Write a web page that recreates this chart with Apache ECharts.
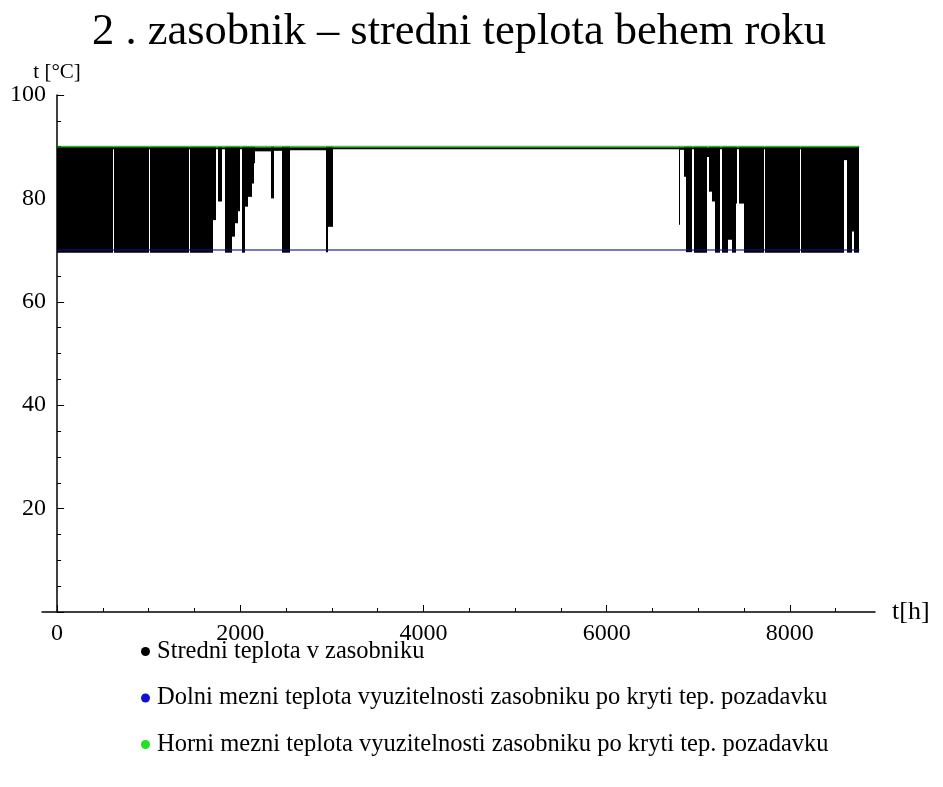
<!DOCTYPE html>
<html>
<head>
<meta charset="utf-8">
<script src="https://cdn.jsdelivr.net/npm/echarts@6/dist/echarts.min.js"></script>
<style>
  html, body { margin: 0; padding: 0; background: #fff; }
  #chart { width: 943px; height: 787px; }
</style>
</head>
<body>
<div id="chart"></div>
<script>
// Hours of the simulated year and the usable temperature limits of tank 2
const hoursInYear = 8760;
const lowerLimit = 70;
const upperLimit = 90;

// Axis ticks
const xMajorTicks = [0, 2000, 4000, 6000, 8000];
const xMinorTicks = [500, 1000, 1500, 2500, 3000, 3500, 4500, 5000, 5500, 6500, 7000, 7500, 8500];

const seriesNames = [
  'Stredni teplota v zasobniku',
  'Dolni mezni teplota vyuzitelnosti zasobniku po kryti tep. pozadavku',
  'Horni mezni teplota vyuzitelnosti zasobniku po kryti tep. pozadavku'
];

// Mean tank temperature, hourly values summarised per time span:
// [from hour, to hour, lowest temperature, highest temperature]
const meanTempSpans = [
  [0, 610, 69.5, 90], [610, 625, 89.5, 89.9], [625, 1000, 69.5, 90],
  [1000, 1014, 89.5, 89.9], [1014, 1436, 69.5, 90], [1436, 1450, 89.5, 89.9],
  [1450, 1705, 69.5, 90],
  [1705, 1735, 75.8, 90], [1735, 1760, 89.5, 89.9], [1760, 1795, 79.4, 90],
  [1795, 1835, 89.5, 89.9], [1835, 1907, 69.5, 90], [1907, 1944, 72.6, 90],
  [1944, 1980, 75.2, 90], [1980, 1998, 77.5, 90], [1998, 2018, 89.5, 89.9],
  [2018, 2053, 69.5, 90], [2053, 2089, 78.4, 90], [2089, 2126, 80.3, 90],
  [2126, 2150, 82.9, 90], [2150, 2162, 86.8, 90], [2162, 2333, 89.1, 89.9],
  [2333, 2370, 80.0, 90], [2370, 2453, 89.2, 89.9], [2453, 2544, 69.5, 90],
  [2544, 2938, 89.3, 89.9], [2938, 2960, 69.6, 90], [2960, 3017, 74.5, 90],
  [3017, 6785, 89.5, 89.9],
  [6785, 6803, 74.9, 90], [6803, 6840, 89.4, 89.9], [6840, 6866, 84.2, 90],
  [6866, 6931, 69.6, 90], [6931, 6949, 89.5, 89.9], [6949, 7095, 69.5, 90],
  [7095, 7113, 88.0, 89.9], [7113, 7150, 81.3, 90], [7150, 7185, 79.4, 90],
  [7185, 7240, 69.5, 90], [7240, 7262, 89.5, 89.9], [7262, 7330, 69.5, 90],
  [7330, 7370, 72.0, 90], [7370, 7411, 69.5, 90], [7411, 7425, 79.0, 90],
  [7425, 7442, 89.5, 89.9], [7442, 7495, 79.0, 90], [7495, 7713, 69.5, 90],
  [7713, 7731, 89.5, 89.9], [7731, 8106, 69.5, 90], [8106, 8122, 89.5, 89.9],
  [8122, 8587, 69.5, 90], [8587, 8620, 87.4, 90], [8620, 8678, 69.5, 90],
  [8678, 8696, 73.6, 90], [8696, 8760, 69.5, 90]
];

const serif = '"Liberation Serif", "Times New Roman", serif';

// One filled column per span, from its lowest to its highest temperature
function renderSpan(params, api) {
  const top = api.coord([api.value(0), api.value(3)]);
  const bottom = api.coord([api.value(1), api.value(2)]);
  const x0 = Math.round(top[0]);
  const x1 = Math.round(bottom[0]);
  return {
    type: 'rect',
    shape: { x: x0, y: top[1], width: Math.max(x1 - x0, 1), height: bottom[1] - top[1] },
    style: { fill: '#000' }
  };
}

const chart = echarts.init(document.getElementById('chart'), null, { renderer: 'canvas' });

chart.setOption({
  animation: false,
  backgroundColor: '#fff',
  title: {
    text: '2 . zasobnik \u2013 stredni teplota behem roku',
    left: 87,
    top: 5,
    textStyle: { fontFamily: serif, fontSize: 44.5, fontWeight: 'normal', color: '#000' }
  },
  legend: {
    orient: 'vertical',
    left: 136,
    top: 634,
    itemGap: 21.5,
    itemWidth: 9,
    itemHeight: 9,
    icon: 'circle',
    selectedMode: false,
    textStyle: { fontFamily: serif, fontSize: 24.5, color: '#000', lineHeight: 23, padding: [0, 0, 0, 2] },
    data: [
      { name: seriesNames[0], itemStyle: { color: '#000' } },
      { name: seriesNames[1], itemStyle: { color: '#1010d0' } },
      { name: seriesNames[2], itemStyle: { color: '#22e022' } }
    ]
  },
  grid: { left: 42, right: 68, top: 95, bottom: 175, containLabel: false, outerBoundsMode: 'none' },
  xAxis: [
    {
      type: 'value',
      position: 'bottom',
      min: -165,
      max: 8930,
      name: 't[h]',
      nameLocation: 'end',
      nameGap: 17,
      nameTextStyle: { fontFamily: serif, fontSize: 26, color: '#000' },
      axisLine: { show: true, onZero: true, lineStyle: { color: '#000', width: 1.5 } },
      axisTick: { show: true, inside: true, length: 7, customValues: xMajorTicks, lineStyle: { color: '#000' } },
      axisLabel: {
        customValues: xMajorTicks,
        formatter: (v) => String(v),
        fontFamily: serif, fontSize: 24, color: '#000', margin: 10
      },
      splitLine: { show: false }
    },
    {
      type: 'value',
      position: 'bottom',
      min: -165,
      max: 8930,
      axisLine: { show: false, onZero: true },
      axisTick: { show: true, inside: true, length: 4, customValues: xMinorTicks, lineStyle: { color: '#000' } },
      axisLabel: { show: false },
      splitLine: { show: false }
    }
  ],
  yAxis: {
    type: 'value',
    min: 0,
    max: 100,
    interval: 20,
    name: 't [\u00b0C]',
    nameLocation: 'end',
    nameGap: 4,
    nameTextStyle: { fontFamily: serif, fontSize: 21, color: '#000' },
    axisLine: { show: true, onZero: true, lineStyle: { color: '#000', width: 1.5 } },
    axisTick: { show: true, inside: true, length: 7, lineStyle: { color: '#000' } },
    minorTick: { show: true, splitNumber: 4, length: 4, lineStyle: { color: '#000' } },
    axisLabel: { showMinLabel: false, fontFamily: serif, fontSize: 24, color: '#000', margin: -4 },
    splitLine: { show: false },
    minorSplitLine: { show: false }
  },
  series: [
    {
      name: seriesNames[0],
      type: 'custom',
      xAxisIndex: 0,
      renderItem: renderSpan,
      itemStyle: { color: '#000' },
      encode: { x: [0, 1], y: [2, 3] },
      data: meanTempSpans,
      z: 2
    },
    {
      name: seriesNames[1],
      type: 'line',
      xAxisIndex: 0,
      showSymbol: false,
      data: [[0, lowerLimit], [hoursInYear, lowerLimit]],
      lineStyle: { color: '#101090', width: 1.5, opacity: 0.75 },
      itemStyle: { color: '#1010d0' },
      z: 3
    },
    {
      name: seriesNames[2],
      type: 'line',
      xAxisIndex: 0,
      showSymbol: false,
      data: [[0, upperLimit], [hoursInYear, upperLimit]],
      lineStyle: { color: '#00a800', width: 2, opacity: 0.7 },
      itemStyle: { color: '#22e022' },
      z: 4
    }
  ]
});
</script>
</body>
</html>
